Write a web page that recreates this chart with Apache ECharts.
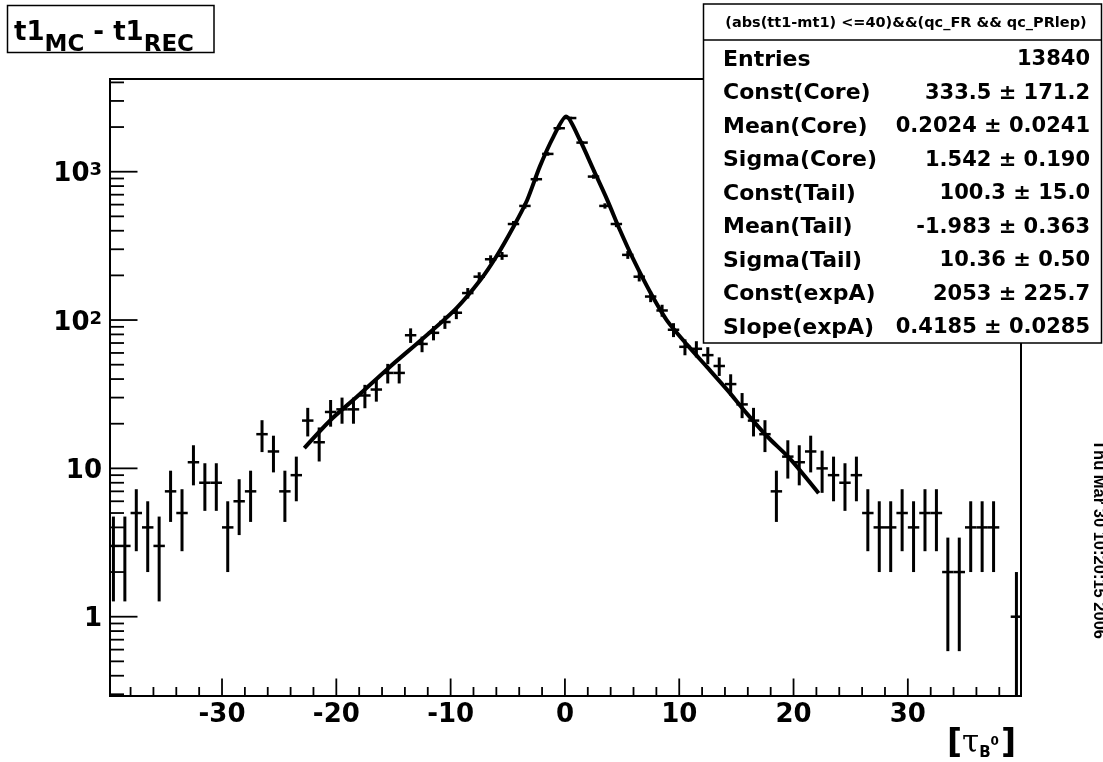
<!DOCTYPE html>
<html>
<head>
<meta charset="utf-8">
<title>t1 residual</title>
<script src="https://cdn.jsdelivr.net/npm/echarts@6/dist/echarts.min.js"></script>
<style>
  html, body { margin: 0; padding: 0; background: #ffffff; }
  #chart { width: 1103px; height: 762px; }
</style>
</head>
<body>
<div id="chart"></div>
<script>
// ---- histogram: t1(MC) - t1(REC), unit-wide bins ----
const binCenters = [
  -39.5, -38.5, -37.5, -36.5, -35.5, -34.5, -33.5, -32.5, -31.5, -30.5,
  -29.5, -28.5, -27.5, -26.5, -25.5, -24.5, -23.5, -22.5, -21.5, -20.5,
  -19.5, -18.5, -17.5, -16.5, -15.5, -14.5, -13.5, -12.5, -11.5, -10.5,
  -9.5, -8.5, -7.5, -6.5, -5.5, -4.5, -3.5, -2.5, -1.5, -0.5,
  0.5, 1.5, 2.5, 3.5, 4.5, 5.5, 6.5, 7.5, 8.5, 9.5,
  10.5, 11.5, 12.5, 13.5, 14.5, 15.5, 16.5, 17.5, 18.5, 19.5,
  20.5, 21.5, 22.5, 23.5, 24.5, 25.5, 26.5, 27.5, 28.5, 29.5,
  30.5, 31.5, 32.5, 33.5, 34.5, 35.5, 36.5, 37.5, 38.5, 39.5
];
const binCounts = [
  3, 3, 5, 4, 3, 7, 5, 11, 8, 8,
  4, 6, 7, 17, 13, 7, 9, 21, 15, 24,
  25, 25, 31, 34, 44, 44, 79, 69, 82, 97,
  112, 152, 196, 257, 271, 444, 588, 890, 1318, 1964,
  2300, 1571, 927, 588, 444, 275, 196, 144, 116, 86,
  66, 64, 58, 49, 37, 27, 21, 17, 7, 12,
  11, 13, 10, 9, 8, 9, 5, 4, 4, 5,
  4, 5, 5, 2, 2, 4, 4, 4, 0, 1
];
const binWidth = 1;

// ---- fitted core + tail + exponential model, sampled along the drawn curve ----
const fitX = [-22.8, -20.5, -18.2, -15.3, -12.4, -9.5, -7.4, -6.0, -4.5, -3.3, -2.2, -1.0, 0.1,
              1.3, 2.5, 3.7, 4.8, 6.0, 7.5, 8.9, 10.7, 12.4, 14.2, 15.9, 17.7, 19.7, 22.2];
const fitY = [13.7, 21.2, 30.4, 48.5, 75.4, 120, 186, 268, 426, 645, 1082, 1725, 2352,
              1642, 1030, 646, 406, 255, 152, 100, 68, 48.5, 33.8, 23.5, 16.4, 11.6, 6.8];

// ---- axis ticks and labels ----
const xMajorTicks = [-30, -20, -10, 0, 10, 20, 30];
const xMinorTicks = [-38, -36, -34, -32, -28, -26, -24, -22, -18, -16, -14, -12, -8, -6, -4, -2,
                     2, 4, 6, 8, 12, 14, 16, 18, 22, 24, 26, 28, 32, 34, 36, 38];
const yMajorTicks = [1, 10, 100, 1000];
const yMinorTicks = [0.3, 0.4, 0.5, 0.6, 0.7, 0.8, 0.9,
                     2, 3, 4, 5, 6, 7, 8, 9,
                     20, 30, 40, 50, 60, 70, 80, 90,
                     200, 300, 400, 500, 600, 700, 800, 900,
                     2000, 3000, 4000];
const yLabelValues = [1, 10, 100, 1000];
const yLabelTexts = ['1', '10', '10{sup|2}', '10{sup|3}'];

// ---- statistics box ----
const statHeader = '(abs(tt1-mt1) <=40)&&(qc_FR && qc_PRlep)';
const statNames = ['Entries', 'Const(Core)', 'Mean(Core)', 'Sigma(Core)', 'Const(Tail)',
                   'Mean(Tail)', 'Sigma(Tail)', 'Const(expA)', 'Slope(expA)'];
const statValues = ['13840', '333.5 \u00b1 171.2', '0.2024 \u00b1 0.0241', '1.542 \u00b1 0.190',
                    '100.3 \u00b1 15.0', '-1.983 \u00b1 0.363', '10.36 \u00b1 0.50',
                    '2053 \u00b1 225.7', '0.4185 \u00b1 0.0285'];
const dateStamp = 'Thu Mar 30 10:20:15 2006';

// ---- axis ranges ----
const X_MIN = -39.8, X_MAX = 39.9;
const Y_MIN = 0.292, Y_MAX = 4217;

const FONT = '"DejaVu Sans", "Liberation Sans", sans-serif';

const chart = echarts.init(document.getElementById('chart'), null, { renderer: 'canvas' });

function xLabel(v) {
  for (const t of xMajorTicks) if (Math.abs(t - v) < 1e-6) return String(t);
  return '';
}
function yLabel(v) {
  for (let i = 0; i < yLabelValues.length; i++) {
    if (Math.abs(Math.log10(v) - Math.log10(yLabelValues[i])) < 1e-6) return yLabelTexts[i];
  }
  return '';
}

const histData = [];
binCenters.forEach((x, i) => { if (binCounts[i] > 0) histData.push([x, binCounts[i]]); });

const option = {
  animation: false,
  backgroundColor: '#ffffff',
  grid: {
    left: 110, top: 79, right: 82, bottom: 66,
    show: true, borderColor: '#000', borderWidth: 2, backgroundColor: 'transparent'
  },
  xAxis: {
    type: 'value', min: X_MIN, max: X_MAX, splitNumber: 8,
    axisLine: { show: true, onZero: false, lineStyle: { color: '#000', width: 2 } },
    axisTick: { show: false },
    splitLine: { show: false },
    axisLabel: {
      customValues: xMajorTicks,
      formatter: xLabel,
      color: '#000', fontFamily: FONT, fontWeight: 'bold', fontSize: 26, margin: 6
    }
  },
  yAxis: {
    type: 'log', logBase: 10, min: Y_MIN, max: Y_MAX,
    axisLine: { show: true, onZero: false, lineStyle: { color: '#000', width: 2 } },
    axisTick: { show: false },
    splitLine: { show: false },
    axisLabel: {
      formatter: yLabel,
      color: '#000', fontFamily: FONT, fontWeight: 'bold', fontSize: 26, margin: 8,
      padding: [6, 0, 0, 0],
      rich: {
        sup: { fontFamily: FONT, fontWeight: 'bold', fontSize: 18, verticalAlign: 'top', lineHeight: 18, padding: [0, 0, 9, 0] }
      }
    }
  },
  series: [
    {
      // bottom axis ticks, pointing into the frame
      type: 'custom', name: 'xTicks', silent: true, z: 4,
      data: xMajorTicks.map(v => [v, Y_MIN, 1]).concat(xMinorTicks.map(v => [v, Y_MIN, 0])),
      encode: { x: 0, y: 1 },
      renderItem: (params, api) => {
        const p = api.coord([api.value(0), Y_MIN]);
        const len = api.value(2) ? 17.5 : 9;
        return { type: 'line', shape: { x1: p[0], y1: p[1], x2: p[0], y2: p[1] - len },
                 style: { stroke: '#000', lineWidth: 1.8 } };
      }
    },
    {
      // left axis ticks (log decades and sub-decades)
      type: 'custom', name: 'yTicks', silent: true, z: 4,
      data: yMajorTicks.map(v => [X_MIN, v, 1]).concat(yMinorTicks.map(v => [X_MIN, v, 0])),
      encode: { x: 0, y: 1 },
      renderItem: (params, api) => {
        const p = api.coord([X_MIN, api.value(1)]);
        const len = api.value(2) ? 27.5 : 14;
        return { type: 'line', shape: { x1: p[0], y1: p[1], x2: p[0] + len, y2: p[1] },
                 style: { stroke: '#000', lineWidth: 1.8 } };
      }
    },
    {
      // histogram bins drawn with Poisson error bars and bin-width markers
      type: 'custom', name: 't1MC - t1REC', z: 5,
      data: histData,
      encode: { x: 0, y: 1 },
      renderItem: (params, api) => {
        const x = api.value(0), n = api.value(1);
        const e = Math.sqrt(n);
        const top = api.coord([x, n + e]);
        const bot = api.coord([x, Math.max(n - e, Y_MIN)]);
        const l = api.coord([Math.max(x - binWidth / 2, X_MIN), n]);
        const r = api.coord([Math.min(x + binWidth / 2, X_MAX), n]);
        return {
          type: 'group',
          children: [
            { type: 'line', shape: { x1: top[0], y1: top[1], x2: bot[0], y2: bot[1] },
              style: { stroke: '#000', lineWidth: 3 } },
            { type: 'line', shape: { x1: l[0], y1: l[1], x2: r[0], y2: r[1] },
              style: { stroke: '#000', lineWidth: 2.5 } }
          ]
        };
      }
    },
    {
      type: 'line', name: 'fit', z: 6,
      data: fitX.map((x, i) => [x, fitY[i]]),
      smooth: 0.25, showSymbol: false, symbol: 'none',
      lineStyle: { color: '#000', width: 4 }
    }
  ],
  graphic: [
    // histogram title box
    {
      type: 'rect', z: 100,
      shape: { x: 7.5, y: 5.5, width: 206.5, height: 47 },
      style: { fill: '#fff', stroke: '#000', lineWidth: 1.5 }
    },
    {
      type: 'text', z: 101, x: 14, y: 20,
      style: {
        text: '{m|t1}{s|MC}{m| - t1}{s|REC}',
        rich: {
          m: { fontFamily: FONT, fontWeight: 'bold', fontSize: 26, lineHeight: 26, verticalAlign: 'top', fill: '#000' },
          s: { fontFamily: FONT, fontWeight: 'bold', fontSize: 23, lineHeight: 23, verticalAlign: 'top', padding: [14, 0, 0, 0], fill: '#000' }
        }
      }
    },
    // statistics box
    {
      type: 'rect', z: 100,
      shape: { x: 703.5, y: 4, width: 398, height: 339 },
      style: { fill: '#fff', stroke: '#000', lineWidth: 1.5 }
    },
    {
      type: 'line', z: 101,
      shape: { x1: 703.5, y1: 40, x2: 1101.5, y2: 40 },
      style: { stroke: '#000', lineWidth: 1.5 }
    },
    {
      type: 'text', z: 101, x: 906, y: 23,
      style: {
        text: statHeader, fontFamily: FONT, fontWeight: 'bold', fontSize: 14.5,
        fill: '#000', align: 'center', verticalAlign: 'middle'
      }
    },
    ...statNames.map((name, i) => ({
      type: 'text', z: 101, x: 723, y: 60 + i * 33.5,
      style: { text: name, fontFamily: FONT, fontWeight: 'bold', fontSize: 22, fill: '#000',
               align: 'left', verticalAlign: 'middle' }
    })),
    ...statValues.map((val, i) => ({
      type: 'text', z: 101, x: 1090, y: 60 + i * 33.5,
      style: { text: val, fontFamily: FONT, fontWeight: 'bold', fontSize: 21, fill: '#000',
               align: 'right', verticalAlign: 'middle' }
    })),
    // x-axis title
    {
      type: 'text', z: 101, x: 1016, y: 744,
      style: {
        text: '{b|[}{t|\u03c4}{s|B}{p|0}{b|]}',
        align: 'right', verticalAlign: 'middle',
        rich: {
          b: { fontFamily: FONT, fontWeight: 'bold', fontSize: 33, fill: '#000', verticalAlign: 'middle' },
          t: { fontFamily: '"DejaVu Serif", serif', fontSize: 31, fill: '#000', verticalAlign: 'middle' },
          s: { fontFamily: FONT, fontWeight: 'bold', fontSize: 15, fill: '#000', verticalAlign: 'bottom', padding: [12, 0, 0, 0] },
          p: { fontFamily: FONT, fontWeight: 'bold', fontSize: 12, fill: '#000', verticalAlign: 'middle', padding: [0, 2, 4, 0] }
        }
      }
    },
    // date stamp along the right edge
    {
      type: 'text', z: 101, x: 1090, y: 440, rotation: -Math.PI / 2,
      style: {
        text: dateStamp, fontFamily: '"Liberation Sans", Arial, sans-serif', fontWeight: 'bold',
        fontSize: 16.5, fill: '#000', align: 'left', verticalAlign: 'bottom'
      }
    }
  ]
};

chart.setOption(option);
</script>
</body>
</html>
